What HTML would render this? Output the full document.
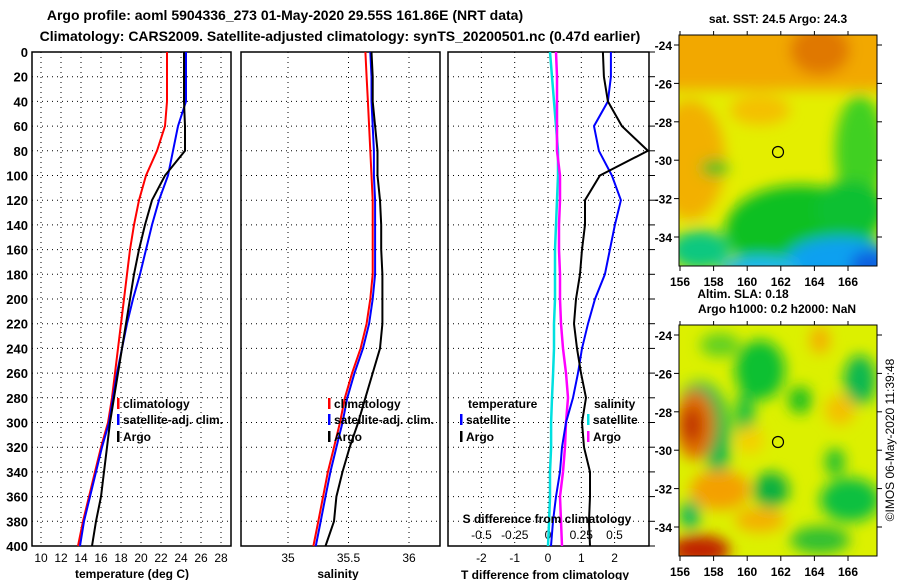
<!DOCTYPE html>
<html><head><meta charset="utf-8">
<style>
html,body{margin:0;padding:0;background:#fff;}
svg{display:block;font-family:"Liberation Sans",sans-serif;font-weight:bold;}
</style></head>
<body>
<svg id="chart" width="900" height="580" viewBox="0 0 900 580" xmlns="http://www.w3.org/2000/svg">
<defs>
<filter id="blur" x="-20%" y="-20%" width="140%" height="140%"><feGaussianBlur stdDeviation="7"/></filter>
<clipPath id="clipTop"><rect x="679" y="35" width="198" height="231"/></clipPath>
<clipPath id="clipBot"><rect x="679" y="325" width="198" height="231"/></clipPath>
</defs>
<text x="285" y="20" font-size="14" text-anchor="middle">Argo profile: aoml 5904336_273 01-May-2020 29.55S 161.86E (NRT data)</text>
<text x="340" y="41" font-size="14" text-anchor="middle">Climatology: CARS2009. Satellite-adjusted climatology: synTS_20200501.nc (0.47d earlier)</text>

<g id="p1"></g>
<g id="p2"></g>
<g id="p3"></g>

<!-- top map -->
<g>
<text x="778" y="23" font-size="12" text-anchor="middle">sat. SST: 24.5 Argo: 24.3</text>
<g clip-path="url(#clipTop)">
<rect x="679" y="35" width="198" height="231" fill="#e4ee00"/>
<g filter="url(#blur)">
<rect x="660" y="20" width="240" height="70" fill="#f2a800"/>
<ellipse cx="820" cy="50" rx="30" ry="25" fill="#e07800"/>
<ellipse cx="690" cy="160" rx="35" ry="60" fill="#f2b000"/>
<ellipse cx="760" cy="110" rx="30" ry="15" fill="#f4c000"/>
<ellipse cx="800" cy="230" rx="75" ry="45" fill="#10c020"/>
<ellipse cx="860" cy="150" rx="25" ry="55" fill="#40d020"/>
<ellipse cx="850" cy="210" rx="35" ry="30" fill="#10c030"/>
<ellipse cx="700" cy="250" rx="30" ry="20" fill="#10c880"/>
<ellipse cx="840" cy="262" rx="55" ry="25" fill="#10a0f0"/>
<ellipse cx="760" cy="268" rx="40" ry="12" fill="#20b8f0"/>
<ellipse cx="870" cy="265" rx="20" ry="15" fill="#1060e0"/>
<ellipse cx="715" cy="168" rx="14" ry="8" fill="#20c020"/>
</g>
</g>
<rect x="679" y="35" width="198" height="231" fill="none" stroke="#000"/>
<circle cx="778" cy="152" r="5.5" fill="none" stroke="#000" stroke-width="1.2"/>
<g id="mapTopAxes"></g>
<text x="743" y="298" font-size="12" text-anchor="middle">Altim. SLA: 0.18</text>
</g>

<!-- bottom map -->
<g>
<text x="777" y="313" font-size="12" text-anchor="middle">Argo h1000: 0.2 h2000: NaN</text>
<g clip-path="url(#clipBot)">
<rect x="679" y="325" width="198" height="231" fill="#dcf000"/>
<g filter="url(#blur)">
<ellipse cx="760" cy="370" rx="25" ry="30" fill="#10c030"/>
<ellipse cx="720" cy="345" rx="20" ry="12" fill="#60d020"/>
<ellipse cx="700" cy="400" rx="20" ry="18" fill="#10b860"/>
<ellipse cx="718" cy="440" rx="12" ry="45" fill="#10b850"/>
<ellipse cx="745" cy="420" rx="10" ry="30" fill="#20c040"/>
<ellipse cx="695" cy="425" rx="20" ry="35" fill="#e07000"/>
<ellipse cx="692" cy="425" rx="10" ry="18" fill="#c03000"/>
<ellipse cx="720" cy="490" rx="30" ry="20" fill="#f4a000"/>
<ellipse cx="760" cy="520" rx="25" ry="12" fill="#f4b000"/>
<ellipse cx="700" cy="550" rx="30" ry="15" fill="#c02000"/>
<ellipse cx="690" cy="515" rx="10" ry="15" fill="#10b860"/>
<ellipse cx="771" cy="490" rx="18" ry="18" fill="#10b040"/>
<ellipse cx="800" cy="400" rx="12" ry="14" fill="#20c020"/>
<ellipse cx="860" cy="380" rx="16" ry="25" fill="#10b850"/>
<ellipse cx="850" cy="500" rx="30" ry="22" fill="#10c040"/>
<ellipse cx="835" cy="462" rx="10" ry="14" fill="#20c030"/>
<ellipse cx="820" cy="540" rx="30" ry="14" fill="#30c030"/>
<ellipse cx="820" cy="340" rx="10" ry="14" fill="#f4b000"/>
<ellipse cx="840" cy="410" rx="15" ry="15" fill="#f4c000"/>
<ellipse cx="750" cy="440" rx="14" ry="14" fill="#f4d000"/>
</g>
</g>
<rect x="679" y="325" width="198" height="231" fill="none" stroke="#000"/>
<circle cx="778" cy="442" r="5.5" fill="none" stroke="#000" stroke-width="1.2"/>
<g id="mapBotAxes"></g>
<text transform="translate(894,440) rotate(-90)" font-size="12" font-weight="normal" text-anchor="middle">©IMOS 06-May-2020 11:39:48</text>
</g>
</svg>
<script>
// ---- data ----
const depths = [0,20,40,60,80,100,120,140,160,180,200,220,240,260,280,300,320,340,360,380,400];
const depthTicks = [0,20,40,60,80,100,120,140,160,180,200,220,240,260,280,300,320,340,360,380,400];
const tempClim = [22.6,22.6,22.6,22.4,21.6,20.5,19.8,19.3,18.9,18.6,18.3,18.0,17.7,17.4,17.1,16.7,16.0,15.4,14.8,14.2,13.7];
const tempSat = [24.5,24.5,24.5,23.7,23.2,22.7,21.8,21.1,20.5,19.9,19.2,18.6,18.1,17.6,17.2,16.8,16.1,15.5,14.9,14.3,13.9];
const tempArgo = [24.3,24.3,24.3,24.4,24.4,22.4,21.1,20.4,19.8,19.3,18.9,18.5,18.1,17.7,17.3,16.9,16.6,16.3,16.0,15.5,15.1];
const tempTicks = [10,12,14,16,18,20,22,24,26,28];
const salClim = [35.64,35.65,35.66,35.67,35.68,35.69,35.70,35.70,35.70,35.70,35.68,35.65,35.60,35.53,35.47,35.43,35.38,35.33,35.29,35.25,35.21];
const salSat = [35.68,35.69,35.69,35.70,35.71,35.71,35.72,35.72,35.72,35.72,35.70,35.67,35.62,35.55,35.49,35.45,35.40,35.35,35.31,35.27,35.23];
const salArgo = [35.69,35.70,35.70,35.72,35.74,35.74,35.76,35.77,35.77,35.78,35.78,35.78,35.76,35.70,35.64,35.58,35.51,35.45,35.40,35.38,35.31];
const salTicks = [35,35.5,36];
const dTSat = [1.89,1.89,1.80,1.38,1.53,1.92,2.19,2.01,1.86,1.71,1.41,1.20,1.02,0.90,0.75,0.54,0.42,0.36,0.24,0.15,0.09];
const dTArgo = [1.65,1.68,1.80,2.22,3.00,1.56,1.11,1.11,1.02,0.96,0.84,0.78,0.87,0.99,1.14,1.02,1.08,1.26,1.26,1.23,1.26];
const dSSat = [0.015,0.03,0.045,0.06,0.075,0.075,0.068,0.06,0.053,0.053,0.053,0.045,0.045,0.038,0.03,0.023,0.023,0.015,0.015,0.008,0.0];
const dSArgo = [0.06,0.068,0.068,0.068,0.068,0.09,0.09,0.083,0.083,0.09,0.09,0.098,0.113,0.135,0.15,0.135,0.128,0.113,0.09,0.098,0.105];
const dTTicks = [-2,-1,0,1,2];
const dSTicks = [-0.5,-0.25,0,0.25,0.5];
const dSTickLabels = ["-0.5","-0.25","0","0.25","0.5"];
const lonTicks = [156,158,160,162,164,166];
const latTicks = [-24,-26,-28,-30,-32,-34];

const NS = "http://www.w3.org/2000/svg";
function mk(parent, tag, attrs, text){
  const e = document.createElementNS(NS, tag);
  for (const k in attrs) e.setAttribute(k, attrs[k]);
  if (text !== undefined) e.textContent = text;
  parent.appendChild(e);
  return e;
}
const Y0 = 52, Y1 = 546;
const yD = d => Y0 + d/400*(Y1-Y0);

function panelFrame(g, x0, x1, name){
  const r = mk(g, 'rect', {x:x0, y:Y0, width:x1-x0, height:Y1-Y0, fill:'none', stroke:'#000', 'stroke-width':1.5});
  
  
  depthTicks.forEach(d => {
    if (d===0 || d===400) return;
    const l = mk(g, 'line', {x1:x0, x2:x1, y1:yD(d), y2:yD(d), stroke:'#000', 'stroke-dasharray':'1 4'});
    
    
  });
}
function vgrid(g, xs, name){
  xs.forEach(x => {
    const l = mk(g, 'line', {x1:x, x2:x, y1:Y0, y2:Y1, stroke:'#000', 'stroke-dasharray':'1 4'});
    
    
  });
}
function series(g, vals, xf, color, name, w){
  const pts = vals.map((v,i) => xf(v).toFixed(1)+','+yD(depths[i]).toFixed(1)).join(' ');
  const p = mk(g, 'polyline', {points:pts, fill:'none', stroke:color, 'stroke-width':w||2});
  
  
}
function legend(g, x, y, color, label, name){
  const t = mk(g, 'rect', {x:x, y:y-10, width:2.5, height:11, fill:color});
  
  
  const tx = mk(g, 'text', {x:x+6, y:y, 'font-size':12}, label);
  
  
}

// Panel 1
const p1 = document.getElementById('p1');
const xT = t => 41 + (t-10)*10;
panelFrame(p1, 32, 231, 'temperature');
vgrid(p1, tempTicks.map(xT), 'temperature');
depthTicks.forEach(d => {
  const t = mk(p1, 'text', {x:28, y:yD(d)+5, 'font-size':13, 'text-anchor':'end'}, String(d));
  
  
});
tempTicks.forEach(v => {
  const t = mk(p1, 'text', {x:xT(v), y:562, 'font-size':12, 'font-weight':'normal', 'text-anchor':'middle'}, String(v));
  
  
});
series(p1, tempClim, xT, '#ff0000', 'temperature-climatology-line');
series(p1, tempSat, xT, '#0000ff', 'temperature-satellite-line');
series(p1, tempArgo, xT, '#000000', 'temperature-argo-line');
legend(p1, 117, 408, '#ff0000', 'climatology', 'legend-climatology');
legend(p1, 117, 424, '#0000ff', 'satellite-adj. clim.', 'legend-satellite');
legend(p1, 117, 441, '#000000', 'Argo', 'legend-argo');
{const t = mk(p1, 'text', {x:132, y:578, 'font-size':12, 'text-anchor':'middle'}, 'temperature (deg C)');

}

// Panel 2
const p2 = document.getElementById('p2');
const xS = s => 288 + (s-35)*121;
panelFrame(p2, 241, 440, 'salinity');
vgrid(p2, salTicks.map(xS), 'salinity');
salTicks.forEach(v => {
  const t = mk(p2, 'text', {x:xS(v), y:562, 'font-size':12, 'font-weight':'normal', 'text-anchor':'middle'}, String(v));
  
  
});
series(p2, salClim, xS, '#ff0000', 'salinity-climatology-line');
series(p2, salSat, xS, '#0000ff', 'salinity-satellite-line');
series(p2, salArgo, xS, '#000000', 'salinity-argo-line');
legend(p2, 328, 408, '#ff0000', 'climatology', 'legend2-climatology');
legend(p2, 328, 424, '#0000ff', 'satellite-adj. clim.', 'legend2-satellite');
legend(p2, 328, 441, '#000000', 'Argo', 'legend2-argo');
{const t = mk(p2, 'text', {x:338, y:578, 'font-size':12, 'text-anchor':'middle'}, 'salinity');

}

// Panel 3
const p3 = document.getElementById('p3');
const xdT = v => 548 + v*33.3;
const xdS = v => 548 + v*133;
panelFrame(p3, 448, 649, 'difference');
vgrid(p3, dTTicks.map(xdT), 'difference');
depthTicks.forEach(d => {
  const l = mk(p3, 'line', {x1:649, x2:655, y1:yD(d), y2:yD(d), stroke:'#000'});
  
  
});
dTTicks.forEach(v => {
  const t = mk(p3, 'text', {x:xdT(v), y:562, 'font-size':12, 'font-weight':'normal', 'text-anchor':'middle'}, String(v));
  
  
});
dSTicks.forEach((v,i) => {
  const t = mk(p3, 'text', {x:xdS(v), y:539, 'font-size':12, 'font-weight':'normal', 'text-anchor':'middle'}, dSTickLabels[i]);
  
  
});
series(p3, dSSat, xdS, '#00e0e0', 'dS-satellite-line', 2.5);
series(p3, dSArgo, xdS, '#ff00ff', 'dS-argo-line', 2.5);
series(p3, dTSat, xdT, '#0000ff', 'dT-satellite-line');
series(p3, dTArgo, xdT, '#000000', 'dT-argo-line');
{const t = mk(p3, 'text', {x:468, y:408, 'font-size':12}, 'temperature');

}
{const t = mk(p3, 'text', {x:594, y:408, 'font-size':12}, 'salinity');

}
legend(p3, 460, 424, '#0000ff', 'satellite', 'legend3-t-satellite');
legend(p3, 460, 441, '#000000', 'Argo', 'legend3-t-argo');
legend(p3, 587, 424, '#00e0e0', 'satellite', 'legend3-s-satellite');
legend(p3, 587, 441, '#ff00ff', 'Argo', 'legend3-s-argo');
{const t = mk(p3, 'text', {x:547, y:523, 'font-size':12, 'text-anchor':'middle'}, 'S difference from climatology');

}
{const t = mk(p3, 'text', {x:545, y:579, 'font-size':12, 'text-anchor':'middle'}, 'T difference from climatology');

}

// Map axes
function mapAxes(id, top, name){
  const g = document.getElementById(id);
  const xL = lon => 680 + (lon-156)*16.8;
  const yL = lat => top + 10 + (-24-lat)*19.2;
  lonTicks.forEach(v => {
    const l = mk(g, 'line', {x1:xL(v), x2:xL(v), y1:top+231, y2:top+236, stroke:'#000'});
    
    
    const l2 = mk(g, 'line', {x1:xL(v), x2:xL(v), y1:top, y2:top-4, stroke:'#000'});
    
    
    const t = mk(g, 'text', {x:xL(v), y:top+251, 'font-size':12, 'text-anchor':'middle'}, String(v));
    
    
  });
  latTicks.forEach(v => {
    const l = mk(g, 'line', {x1:674, x2:679, y1:yL(v), y2:yL(v), stroke:'#000'});
    
    
    const l2 = mk(g, 'line', {x1:877, x2:882, y1:yL(v), y2:yL(v), stroke:'#000'});
    
    
    const t = mk(g, 'text', {x:672, y:yL(v)+5, 'font-size':12, 'text-anchor':'end'}, String(v));
    
    
  });
}
mapAxes('mapTopAxes', 35, 'sst-map');
mapAxes('mapBotAxes', 325, 'sla-map');
</script>
</body></html>
